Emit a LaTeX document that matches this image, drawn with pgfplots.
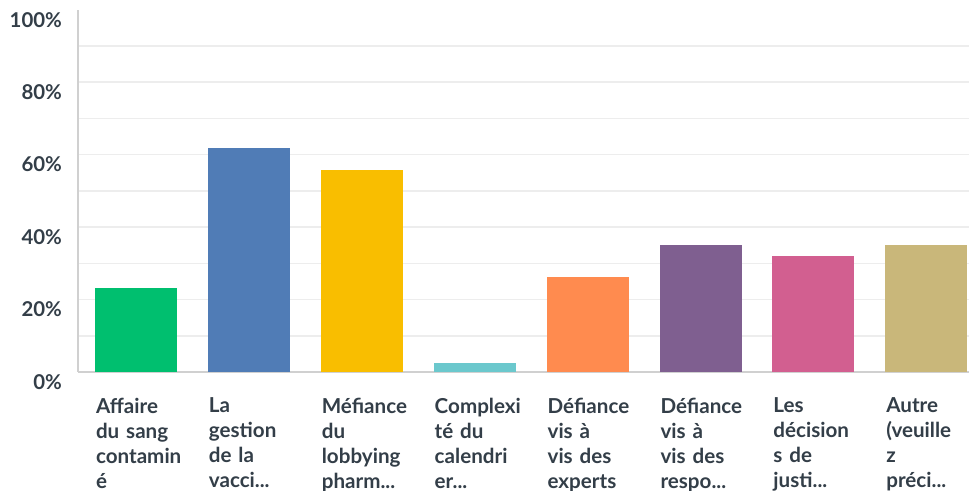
\documentclass[border=0pt]{standalone}
\usepackage{pgfplots}
\pgfplotsset{compat=1.18}
\usepackage{fontspec}
\setmainfont{Lato}
\definecolor{txt}{HTML}{333E48}
\definecolor{gridc}{HTML}{EDEDED}
\definecolor{axc}{HTML}{D0D0D0}
\definecolor{c1}{HTML}{00BF6F}
\definecolor{c2}{HTML}{507CB6}
\definecolor{c3}{HTML}{F9BE00}
\definecolor{c4}{HTML}{6BC8CD}
\definecolor{c5}{HTML}{FF8B4F}
\definecolor{c6}{HTML}{7F5F90}
\definecolor{c7}{HTML}{D25F90}
\definecolor{c8}{HTML}{C9B77A}
\newcommand{\el}{{.}{.}{.}}
\begin{document}
\begin{tikzpicture}
\begin{axis}[
  scale only axis,
  width=445.5pt, height=181.15pt,
  xmin=-0.514, xmax=7.378,
  ymin=0, ymax=100,
  axis x line*=bottom, axis y line*=left,
  axis line style={axc, line width=1pt, -},
  major tick length=0pt, minor tick length=0pt,
  ytick={0,20,40,60,80,100},
  minor ytick={10,20,30,40,50,60,70,80,90},
  yminorgrids=true, ymajorgrids=false,
  minor grid style={gridc, line width=0.8pt},
  /pgf/number format/assume math mode=true,
  yticklabel={\pgfmathprintnumber{\tick}\%},
  yticklabel style={font=\fontsize{10.2}{12}\selectfont\bfseries, text=txt, anchor=east, xshift=-4.5pt, yshift=-5pt},
  xtick={0,1,2,3,4,5,6,7},
  xticklabels={
    {Affaire\\du sang\\contamin\\é},
    {La\\gestion\\de la\\vacci\el},
    {Méfiance\\du\\lobbying\\pharm\el},
    {Complexi\\té du\\calendri\\er\el},
    {Défiance\\vis à\\vis des\\experts},
    {Défiance\\vis à\\vis des\\respo\el},
    {Les\\décision\\s de\\justi\el},
    {Autre\\(veuille\\z\\préci\el}},
  xticklabel style={font=\fontsize{10.3}{12.5}\selectfont\bfseries, text=txt, text width=42pt, align=left, anchor=north, yshift=-9.5pt, xshift=1pt},
  clip=false,
]
\addplot[ybar, bar width=41pt, bar shift=0pt, fill=c1, draw=none] coordinates {(0,23.3)};
\addplot[ybar, bar width=41pt, bar shift=0pt, fill=c2, draw=none] coordinates {(1,61.8)};
\addplot[ybar, bar width=41pt, bar shift=0pt, fill=c3, draw=none] coordinates {(2,55.7)};
\addplot[ybar, bar width=41pt, bar shift=0pt, fill=c4, draw=none] coordinates {(3,2.5)};
\addplot[ybar, bar width=41pt, bar shift=0pt, fill=c5, draw=none] coordinates {(4,26.2)};
\addplot[ybar, bar width=41pt, bar shift=0pt, fill=c6, draw=none] coordinates {(5,35.0)};
\addplot[ybar, bar width=41pt, bar shift=0pt, fill=c7, draw=none] coordinates {(6,32.0)};
\addplot[ybar, bar width=41pt, bar shift=0pt, fill=c8, draw=none] coordinates {(7,35.0)};
\coordinate (sw) at (rel axis cs:0,0);
\coordinate (ne) at (rel axis cs:1,1);
\end{axis}
\pgfresetboundingbox
\path[use as bounding box] ([xshift=-39pt,yshift=-59.5pt]sw) rectangle ([yshift=4.85pt]ne);
\end{tikzpicture}
\end{document}
